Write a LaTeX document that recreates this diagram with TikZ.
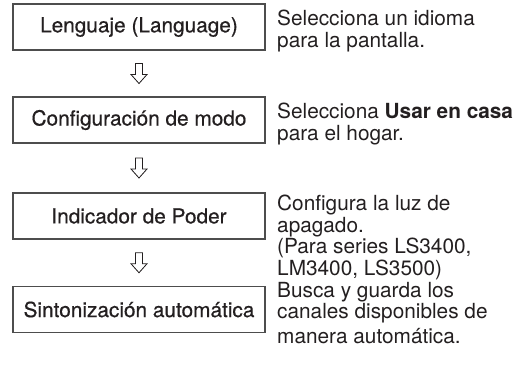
\documentclass[tikz,border=0pt]{standalone}
\usepackage{fontspec}
\setmainfont{TeX Gyre Heros}
\newfontfamily\stepfont[FakeBold=0.5]{TeX Gyre Heros}
\usetikzlibrary{calc}

\definecolor{ink}{HTML}{231F20}
\definecolor{frame}{HTML}{4D4D4D}

\begin{document}
\begin{tikzpicture}[x=1pt,y=-1pt,
  box/.style={draw=frame, line width=1.1pt, minimum width=252pt, minimum height=46pt,
    inner sep=0pt, text=ink, font=\stepfont\fontsize{20.8}{22}\selectfont},
  note/.style={anchor=base west, align=left, inner sep=0pt, text=ink,
    font=\fontsize{20.8}{21.5}\selectfont},
  flow/.style={draw=ink, line width=0.8pt, fill=white, line join=miter}]

  % Fix the page size
  \useasboundingbox (0,0) rectangle (517,365);

  % Steps
  \node[box] (lang)  at (139,27)    {Lenguaje (Language)};
  \node[box] (modo)  at (139,120)   {Configuración de modo};
  \node[box] (poder) at (139,216)   {Indicador de Poder};
  \node[box] (sinto) at (139,309.5) {Sintonización automática};

  % Hollow arrows between the steps
  \foreach \a/\b in {lang/modo, modo/poder, poder/sinto} {
    \coordinate (to-\b) at ($(\a.south)!0.5!(\b.north)$);
    \draw[flow] (to-\b) ++(-3.5,-10) -- ++(7,0) -- ++(0,11) -- ++(4.5,0)
      -- ++(-8,9) -- ++(-8,-9) -- ++(4.5,0) -- cycle;
  }

  % Notes on the right (anchored at the last line)
  \node[note] (t-lang)  at (277,47)  {Selecciona un idioma\\para la pantalla.};
  \node[note] (t-modo)  at (277,140) {Selecciona {\bfseries Usar en casa}\\para el hogar.};
  \node[note] (t-poder) at (277,275) {Configura la luz de\\apagado.\\(Para series LS3400,\\LM3400, LS3500)};
  \node[note] (t-sinto) at (277,343) {Busca y guarda los\\canales disponibles de\\[3pt]manera automática.};

\end{tikzpicture}
\end{document}
